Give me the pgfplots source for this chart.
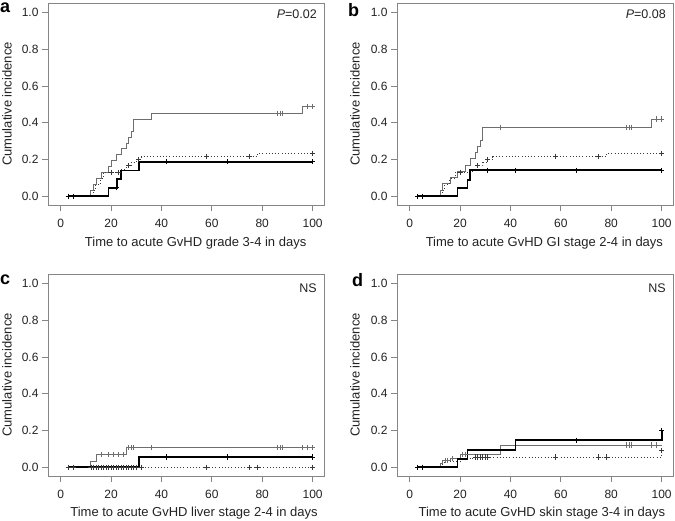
\documentclass[border=0pt]{standalone}
\usepackage{fontspec}
\setmainfont{Liberation Sans}
\usepackage{pgfplots}
\pgfplotsset{compat=1.18}
\definecolor{cgray}{HTML}{6E6E6E}
\definecolor{cdot}{HTML}{3A3A3A}
\definecolor{cframe}{HTML}{858585}
\definecolor{ctext}{HTML}{222222}
\pgfplotsset{
 km/.style={scale only axis, width=276pt, height=202pt, anchor=south west,
  xmin=-5, xmax=104.5, ymin=-0.048, ymax=1.052,
  xtick={0,20,40,60,80,100}, ytick={0,0.2,0.4,0.6,0.8,1},
  yticklabel style={/pgf/number format/.cd,fixed,fixed zerofill,precision=1},
  xticklabel style={yshift=-5pt},
  /pgf/number format/assume math mode=true,
  xtick pos=left, ytick pos=left, tick align=outside, major tick length=6pt,
  axis line style={cframe, line width=0.8pt}, tick style={cframe, line width=0.8pt},
  ticklabel style={font=\fontsize{12}{14}\selectfont, text=ctext},
  clip=false},
 thinl/.style={const plot, cgray, line width=0.7pt, no marks},
 dotl/.style={const plot, cdot, line width=0.9pt, dash pattern=on 1pt off 2.2pt, no marks},
 thickl/.style={const plot, black, line width=1.7pt, no marks},
 cen/.style={only marks, mark=+, mark size=2.6pt, mark options={solid, line width=0.6pt}},
}
\newcommand\lab{\fontsize{13}{15}\selectfont\color{ctext}}
\begin{document}
\begin{tikzpicture}
% ---------------- panel a
\begin{axis}[km, at={(48pt,315pt)}]
\addplot[thinl] coordinates {(3,0)(12,0.032)(13,0.065)(14,0.097)(16,0.129)(19,0.161)(20,0.194)(22,0.226)(24,0.258)(26,0.290)(27,0.323)(28,0.355)(29,0.419)(36,0.452)(96,0.49)(100,0.49)};
\addplot[dotl] coordinates {(3,0)(13,0.032)(14,0.065)(16,0.097)(17,0.13)(24,0.148)(26,0.166)(28,0.184)(30,0.2)(32,0.216)(78,0.232)(100,0.232)};
\addplot[thickl] coordinates {(3,0)(19,0.046)(22.5,0.092)(24,0.14)(31,0.188)(100,0.188)};
\addplot[cen, cgray] coordinates {(86,0.452)(87,0.452)(88,0.452)(98,0.49)(100,0.49)};
\addplot[cen, cdot] coordinates {(20,0.13)(23,0.13)(27,0.166)(31,0.2)(58,0.216)(75,0.216)(100,0.232)};
\addplot[cen, black] coordinates {(3,0)(5,0)(22,0.046)(42,0.188)(66,0.188)(100,0.188)};
\node[anchor=north east, inner sep=0pt, font=\fontsize{12.5}{14}\selectfont, text=ctext] at ([xshift=-7pt,yshift=-7pt]rel axis cs:1,1) {\textit{P}=0.02};
\node[rotate=90, anchor=center] at ([xshift=-41pt]rel axis cs:0,0.5) {\lab Cumulative incidence};
\node[anchor=base] at ([yshift=-41.5pt]rel axis cs:0.535,0) {\lab Time to acute GvHD grade 3-4 in days};
\end{axis}
% ---------------- panel b
\begin{axis}[km, at={(397pt,315pt)}]
\addplot[thinl] coordinates {(3,0)(12,0.034)(13,0.068)(16,0.102)(19,0.136)(22,0.17)(24,0.204)(26,0.238)(27,0.272)(28,0.306)(29,0.375)(96,0.42)(100,0.42)};
\addplot[dotl] coordinates {(3,0)(13,0.032)(14,0.065)(16,0.097)(18,0.13)(25,0.148)(27,0.166)(29,0.184)(31,0.2)(33,0.216)(78,0.232)(100,0.232)};
\addplot[thickl] coordinates {(3,0)(19,0.045)(23,0.09)(24,0.141)(100,0.141)};
\addplot[cen, cgray] coordinates {(36,0.375)(86,0.375)(87,0.375)(88,0.375)(98,0.42)(100,0.42)};
\addplot[cen, cdot] coordinates {(20,0.13)(27,0.166)(31,0.2)(58,0.216)(75,0.216)(100,0.232)};
\addplot[cen, black] coordinates {(3,0)(5,0)(31,0.141)(42,0.141)(66,0.141)(100,0.141)};
\node[anchor=north east, inner sep=0pt, font=\fontsize{12.5}{14}\selectfont, text=ctext] at ([xshift=-7pt,yshift=-7pt]rel axis cs:1,1) {\textit{P}=0.08};
\node[rotate=90, anchor=center] at ([xshift=-42pt]rel axis cs:0,0.5) {\lab Cumulative incidence};
\node[anchor=base] at ([yshift=-41.5pt]rel axis cs:0.534,0) {\lab Time to acute GvHD GI stage 2-4 in days};
\end{axis}
% ---------------- panel c
\begin{axis}[km, at={(48pt,44pt)}]
\addplot[dotl] coordinates {(3,0)(100,0)};
\addplot[thinl] coordinates {(3,0)(12,0.034)(14,0.068)(26,0.106)(100,0.106)};
\addplot[thickl] coordinates {(3,0)(31,0.055)(100,0.055)};
\addplot[cen, cgray] coordinates {(16,0.068)(19,0.068)(21,0.068)(23,0.068)(25,0.068)(27,0.106)(28,0.106)(29,0.106)(36,0.106)(86,0.106)(87,0.106)(88,0.106)(96,0.106)(98,0.106)(100,0.106)};
\addplot[cen, cdot] coordinates {(3,0)(5,0)(12,0)(13,0)(14,0)(15,0)(16,0)(17,0)(18,0)(19,0)(20,0)(21,0)(22,0)(23,0)(24,0)(25,0)(26,0)(27,0)(28,0)(29,0)(30,0)(32,0)(58,0)(75,0)(78,0)(100,0)};
\addplot[cen, black] coordinates {(42,0.055)(66,0.055)(100,0.055)};
\node[anchor=north east, inner sep=0pt, font=\fontsize{12.5}{14}\selectfont, text=ctext] at ([xshift=-7pt,yshift=-10pt]rel axis cs:1,1) {NS};
\node[rotate=90, anchor=center] at ([xshift=-41pt]rel axis cs:0,0.5) {\lab Cumulative incidence};
\node[anchor=base] at ([yshift=-40.5pt]rel axis cs:0.529,0) {\lab Time to acute GvHD liver stage 2-4 in days};
\end{axis}
% ---------------- panel d
\begin{axis}[km, at={(397pt,44pt)}]
\addplot[dotl] coordinates {(3,0)(13,0.02)(14,0.03)(20,0.045)(25,0.055)(100,0.09)};
\addplot[thinl] coordinates {(3,0)(12,0.023)(13,0.035)(16,0.046)(20,0.07)(36,0.121)(100,0.121)};
\addplot[thickl] coordinates {(3,0)(19,0.044)(23,0.094)(42,0.147)(100,0.2)};
\addplot[cen, cgray] coordinates {(14,0.035)(15,0.035)(17,0.046)(21,0.07)(22,0.07)(86,0.121)(87,0.121)(88,0.121)(96,0.121)(98,0.121)};
\addplot[cen, cdot] coordinates {(26,0.055)(27,0.055)(28,0.055)(29,0.055)(30,0.055)(31,0.055)(58,0.055)(75,0.055)(78,0.055)(100,0.09)};
\addplot[cen, black] coordinates {(3,0)(5,0)(66,0.147)(100,0.2)};
\node[anchor=north east, inner sep=0pt, font=\fontsize{12.5}{14}\selectfont, text=ctext] at ([xshift=-7pt,yshift=-10pt]rel axis cs:1,1) {NS};
\node[rotate=90, anchor=center] at ([xshift=-42pt]rel axis cs:0,0.5) {\lab Cumulative incidence};
\node[anchor=base] at ([yshift=-40.5pt]rel axis cs:0.525,0) {\lab Time to acute GvHD skin stage 3-4 in days};
\end{axis}
% panel letters
\node[anchor=base west, inner sep=0pt, font=\fontsize{18}{20}\bfseries] at (0pt,507pt) {a};
\node[anchor=base west, inner sep=0pt, font=\fontsize{18}{20}\bfseries] at (348pt,503pt) {b};
\node[anchor=base west, inner sep=0pt, font=\fontsize{18}{20}\bfseries] at (0pt,235pt) {c};
\node[anchor=base west, inner sep=0pt, font=\fontsize{18}{20}\bfseries] at (352pt,233pt) {d};
\pgfresetboundingbox
\useasboundingbox (0pt,0pt) rectangle (675pt,520pt);
\end{tikzpicture}
\end{document}
